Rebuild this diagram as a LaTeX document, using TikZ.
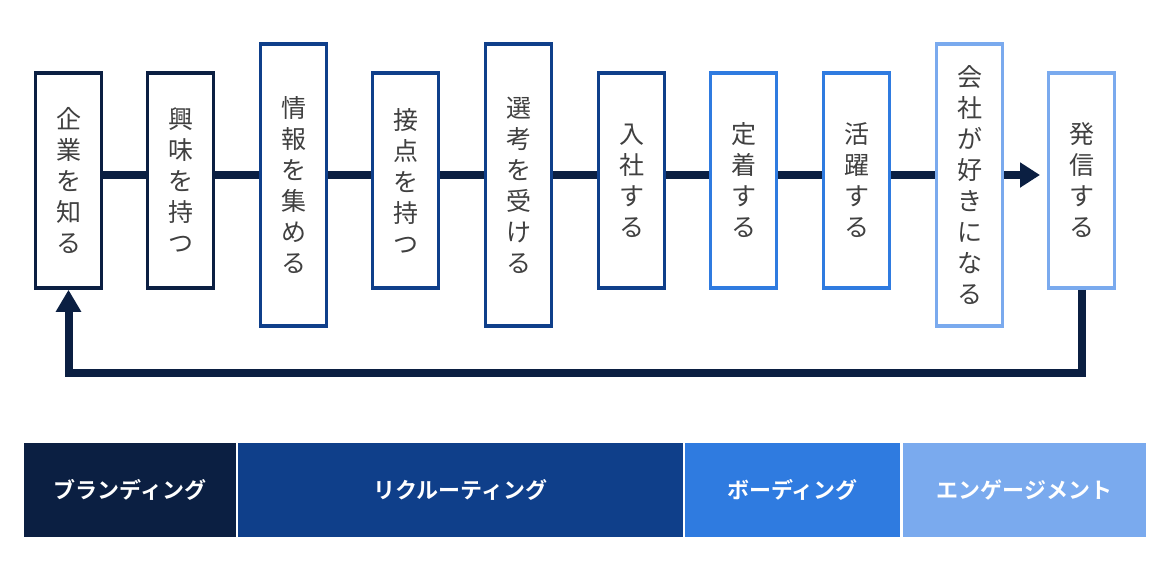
\documentclass[tikz,border=0pt]{standalone}
\usepackage{fontspec}
\setmainfont{Noto Sans CJK JP}[BoldFont={Noto Sans CJK JP Bold}]
\usetikzlibrary{arrows.meta}
\definecolor{NavyCol}{HTML}{0B1F42}
\definecolor{DeepCol}{HTML}{0F3F8A}
\definecolor{BrightCol}{HTML}{2F7BE0}
\definecolor{LightCol}{HTML}{7AAAEE}
\definecolor{TextCol}{HTML}{404040}
\tikzstyle{stage} = [line width=3.5pt, fill=white, minimum width=66pt, text width=40pt, align=center, text=TextCol, font=\fontsize{25}{31}\selectfont, inner sep=0pt]
\tikzstyle{band} = [minimum height=94pt, inner sep=0pt, text=white, font=\fontsize{22}{24}\selectfont\bfseries]
\tikzstyle{flow} = [line width=8pt, NavyCol]
\begin{document}
\begin{tikzpicture}[x=1pt,y=-1pt]

                    \useasboundingbox (0,0) rectangle (1173,579);

                    % main flow line
                    \coordinate (start) at (103,175);
                    \coordinate (stop) at (1040,175);
                    \draw [flow,-{Triangle[length=20pt,width=24pt]}] (start) -- (stop);

                    \node[stage,draw=NavyCol,minimum height=215pt] (s1) at (68.5,180.5) {企\\業\\を\\知\\る};
                    \node[stage,draw=NavyCol,minimum height=215pt] (s2) at (180.5,180.5) {興\\味\\を\\持\\つ};
                    \node[stage,draw=DeepCol,minimum height=282pt] (s3) at (293.5,185) {情\\報\\を\\集\\め\\る};
                    \node[stage,draw=DeepCol,minimum height=215pt] (s4) at (405.5,180.5) {接\\点\\を\\持\\つ};
                    \node[stage,draw=DeepCol,minimum height=282pt] (s5) at (518.5,185) {選\\考\\を\\受\\け\\る};
                    \node[stage,draw=DeepCol,minimum height=215pt] (s6) at (631.5,180.5) {入\\社\\す\\る};
                    \node[stage,draw=BrightCol,minimum height=215pt] (s7) at (743.5,180.5) {定\\着\\す\\る};
                    \node[stage,draw=BrightCol,minimum height=215pt] (s8) at (856.5,180.5) {活\\躍\\す\\る};
                    \node[stage,draw=LightCol,minimum height=282pt] (s9) at (969.5,185) {会\\社\\が\\好\\き\\に\\な\\る};
                    \node[stage,draw=LightCol,minimum height=215pt] (s10) at (1081.5,180.5) {発\\信\\す\\る};

                    % return loop
                    \coordinate (down) at (1081.5,373);
                    \coordinate (left) at (68.5,373);
                    \draw [flow,-{Triangle[length=22pt,width=24pt]}] (s10.south) -- (down) -- (left) -- (s1.south);

                    % phases
                    \node[band,fill=NavyCol,minimum width=212pt] (p1) at (130,490) {ブランディング};
                    \node[band,fill=DeepCol,minimum width=445pt] (p2) at (460.5,490) {リクルーティング};
                    \node[band,fill=BrightCol,minimum width=215pt] (p3) at (792.5,490) {ボーディング};
                    \node[band,fill=LightCol,minimum width=243pt] (p4) at (1024.5,490) {エンゲージメント};

\end{tikzpicture}
\end{document}
